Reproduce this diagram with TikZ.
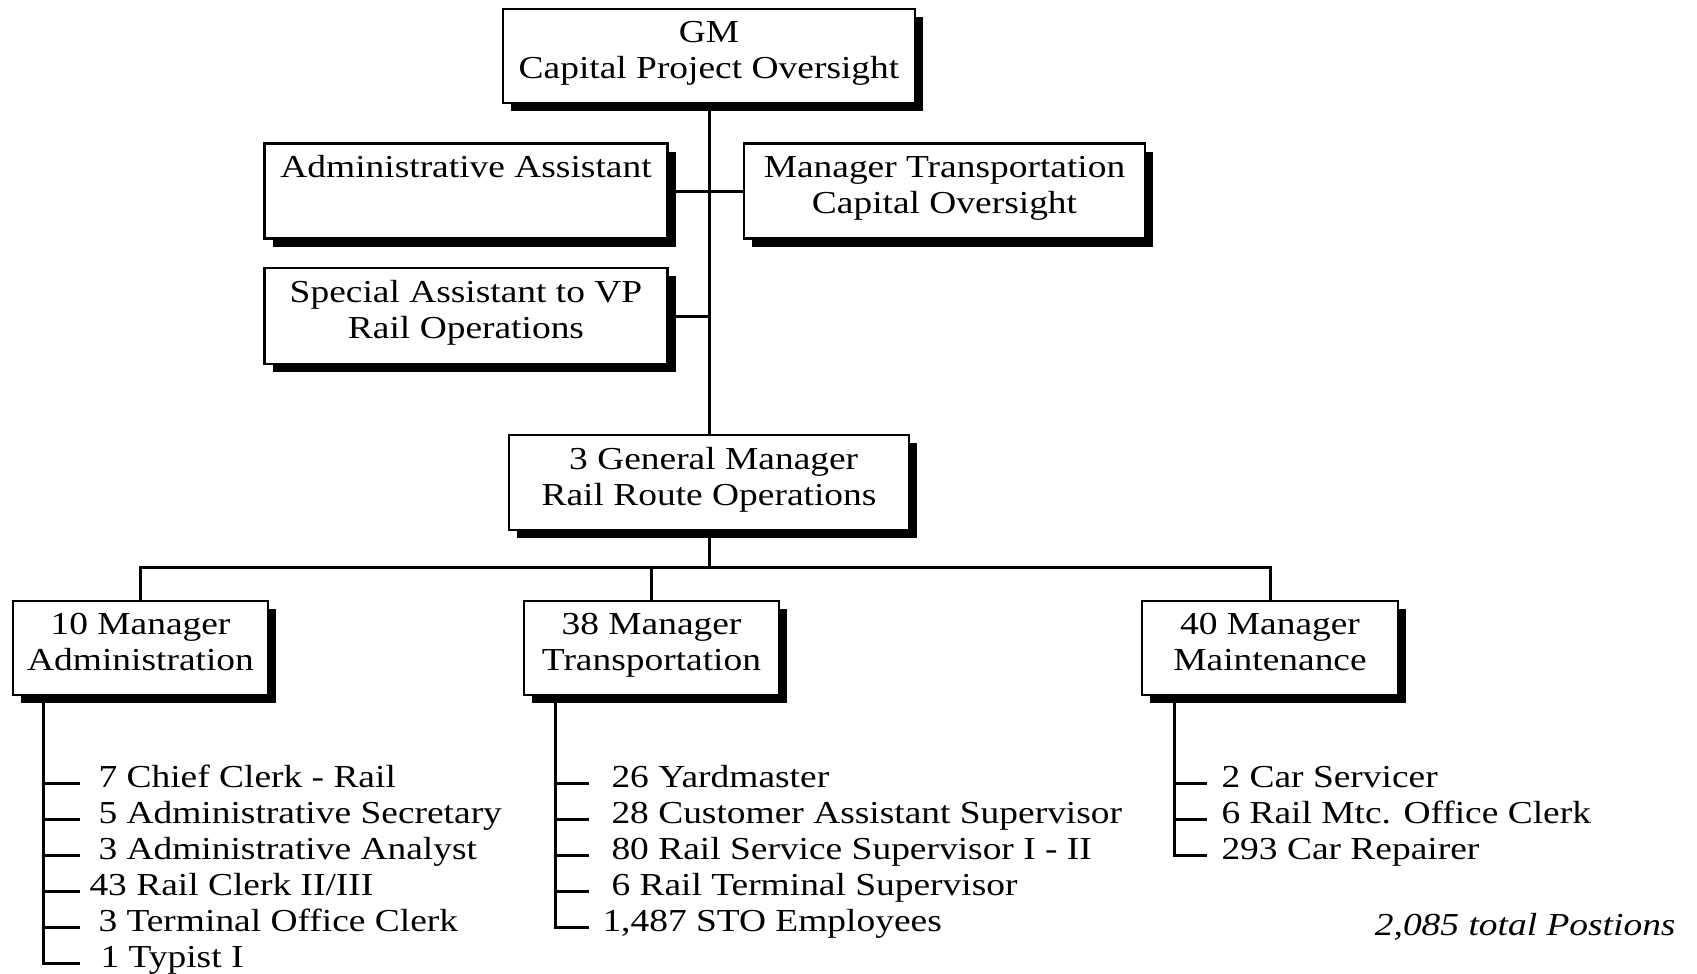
\documentclass[tikz,border=0pt]{standalone}
\usepackage{fontspec}
\setmainfont{Liberation Serif}[FakeStretch=1.17]
\usetikzlibrary{shadows}

\begin{document}
\begin{tikzpicture}[x=1pt, y=-1pt, line width=3pt,
    font=\fontsize{32}{36}\selectfont,
    post/.style={draw, line width=2.5pt, fill=white, align=center, inner sep=0pt,
      minimum height=94pt, text depth=13pt,
      drop shadow={shadow xshift=8pt, shadow yshift=-8pt, fill=black, opacity=1}},
    item/.style={anchor=base west, inner sep=0pt}]
  \useasboundingbox (0,0) rectangle (1697,974);

  % top of the chart
  \node[post, minimum width=412pt] (gm) at (709,56) {GM\\Capital Project Oversight};
  \node[post, minimum width=403pt, minimum height=95pt] (aa) at (466,191) {Administrative Assistant\\\phantom{Ag}};
  \node[post, minimum width=401pt, minimum height=95pt] (mtco) at (944.5,191) {Manager Transportation\\Capital Oversight};
  \node[post, minimum width=403pt, minimum height=96pt] (sa) at (466,316) {Special Assistant to VP\\Rail Operations};
  \node[post, minimum width=400pt, minimum height=95pt] (gmr) at (709,482.5) {\ 3 General Manager\\Rail Route Operations};

  \draw (gm) -- (gmr);
  \draw (aa.east) -- (mtco.west);
  \draw (sa.east) -- (sa.east -| gm.south);

  % managers
  \node[post, minimum width=255pt] (madm) at (140.5,648) {10 Manager\\Administration};
  \node[post, minimum width=255pt] (mtrn) at (651.5,648) {38 Manager\\Transportation};
  \node[post, minimum width=256pt] (mmnt) at (1270,648) {40 Manager\\Maintenance};

  \coordinate (bus) at (709,567);
  \draw (gmr.south) -- (bus);
  \draw (madm.north) |- (bus) -| (mmnt.north);
  \draw (mtrn.north) -- (mtrn.north |- bus);

  % staff lists
  \coordinate (adm spine) at (43,963);
  \coordinate (trn spine) at (555,927);
  \coordinate (mnt spine) at (1174,855);
  \draw[line cap=rect] (madm.south -| adm spine) -- (adm spine);
  \draw[line cap=rect] (mtrn.south -| trn spine) -- (trn spine);
  \draw[line cap=rect] (mmnt.south -| mnt spine) -- (mnt spine);

  \foreach \y/\x/\t [count=\i] in {783/97/7 Chief Clerk - Rail, 819/97/5 Administrative Secretary,
      855/97/3 Administrative Analyst, 891/88/{43 Rail Clerk II/III},
      927/97/3 Terminal Office Clerk, 963/99/1 Typist I} {
    \draw (43,\y) -- ++(37,0);
    \node[item] (adm-\i) at (\x,\y+4) {\t};
  }
  \foreach \y/\x/\t [count=\i] in {783/610/26 Yardmaster, 819/610/28 Customer Assistant Supervisor,
      855/610/80 Rail Service Supervisor I - II, 891/610/6 Rail Terminal Supervisor,
      927/601/{1,487 STO Employees}} {
    \draw (555,\y) -- ++(34,0);
    \node[item] (trn-\i) at (\x,\y+4) {\t};
  }
  \foreach \y/\t [count=\i] in {783/2 Car Servicer, 819/6 Rail Mtc. Office Clerk, 855/293 Car Repairer} {
    \draw (1174,\y) -- ++(33,0);
    \node[item] (mnt-\i) at (1220,\y+4) {\t};
  }

  \node[anchor=base east, inner sep=0pt, font=\fontsize{32}{36}\selectfont\itshape] (total) at (1677,935) {2,085 total Postions};
\end{tikzpicture}
\end{document}
